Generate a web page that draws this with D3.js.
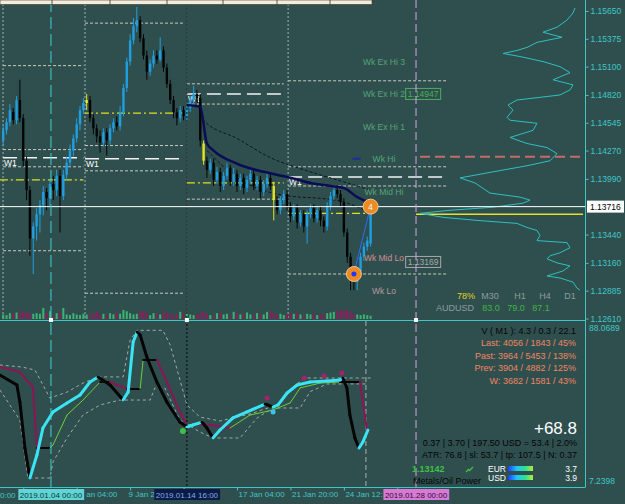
<!DOCTYPE html>
<html><head><meta charset="utf-8">
<script src="https://cdn.jsdelivr.net/npm/d3@7"></script>
<style>
html,body{margin:0;padding:0;background:#2f4f4f;overflow:hidden}
svg{display:block;font-family:"Liberation Sans",Arial,sans-serif}
</style></head><body>
<svg id="chart" width="625" height="504"></svg>
<script>
// ---- H4 candles (EURUSD) ----
var open = [1.1437,1.1447,1.1455,1.1465,1.1457,1.1477,1.1459,1.1417,1.1388,1.1340,
  1.1352,1.1364,1.1373,1.1386,1.1380,1.1394,1.1388,1.1402,1.1382,1.1403,
  1.1415,1.1427,1.1439,1.1453,1.1467,1.1474,1.1477,1.1459,1.1449,1.1441,
  1.1435,1.1445,1.1437,1.1449,1.1455,1.1451,1.1465,1.1489,1.1515,1.1536,
  1.1550,1.1556,1.1538,1.1521,1.1505,1.1513,1.1521,1.1517,1.1526,1.1509,
  1.1493,1.1477,1.1465,1.1459,1.1467,1.1461,1.1469,1.1477,1.1483,1.1479,
  1.1434,1.1417,1.1408,1.1415,1.1398,1.1406,1.1392,1.1402,1.1410,1.1396,
  1.1404,1.1392,1.1400,1.1390,1.1398,1.1404,1.1392,1.1398,1.1386,1.1394,
  1.1400,1.1392,1.1378,1.1368,1.1378,1.1384,1.1372,1.1362,1.1370,1.1356,
  1.1364,1.1352,1.1364,1.1370,1.1360,1.1368,1.1358,1.1352,1.1372,1.1382,
  1.1388,1.1384,1.1376,1.1346,1.1322,1.1306,1.1297,1.1308,1.1322,1.1332,
  1.1335];
var high = [1.1451,1.1459,1.1473,1.1469,1.1481,1.1497,1.1463,1.1421,1.1392,1.1356,
  1.1370,1.1378,1.1392,1.1390,1.1398,1.1402,1.1408,1.1408,1.1408,1.1421,
  1.1433,1.1443,1.1459,1.1471,1.1479,1.1483,1.1481,1.1463,1.1453,1.1447,
  1.1449,1.1449,1.1453,1.1459,1.1461,1.1471,1.1493,1.1519,1.1542,1.1558,
  1.1569,1.1560,1.1542,1.1526,1.1517,1.1526,1.1526,1.1539,1.1530,1.1513,
  1.1497,1.1481,1.1469,1.1471,1.1471,1.1473,1.1481,1.1491,1.1487,1.1483,
  1.1437,1.1421,1.1419,1.1419,1.1411,1.1410,1.1406,1.1415,1.1413,1.1410,
  1.1408,1.1404,1.1404,1.1402,1.1410,1.1408,1.1402,1.1402,1.1398,1.1406,
  1.1404,1.1396,1.1382,1.1382,1.1388,1.1388,1.1376,1.1374,1.1374,1.1368,
  1.1368,1.1368,1.1374,1.1374,1.1372,1.1372,1.1362,1.1376,1.1386,1.1393,
  1.1392,1.1388,1.1380,1.1350,1.1326,1.1310,1.1312,1.1326,1.1336,1.1342,
  1.1376];
var low = [1.1431,1.1443,1.1451,1.1453,1.1453,1.1455,1.1411,1.1378,1.1323,1.1305,
  1.1338,1.1346,1.1363,1.1368,1.1373,1.1378,1.1382,1.1346,1.1378,1.1398,
  1.1411,1.1421,1.1435,1.1447,1.1463,1.1467,1.1455,1.1443,1.1435,1.1425,
  1.1431,1.1422,1.1433,1.1445,1.1447,1.1447,1.1461,1.1485,1.1511,1.1532,
  1.1544,1.1534,1.1517,1.1497,1.1501,1.1509,1.1513,1.1515,1.1505,1.1489,
  1.1473,1.1459,1.1452,1.1455,1.1457,1.1457,1.1465,1.1473,1.1475,1.1431,
  1.1413,1.1400,1.1404,1.1392,1.1394,1.1386,1.1388,1.1398,1.1392,1.1392,
  1.1386,1.1388,1.1384,1.1386,1.1394,1.1388,1.1388,1.1380,1.1382,1.1390,
  1.1388,1.1358,1.1364,1.1364,1.1374,1.1368,1.1356,1.1358,1.1350,1.1352,
  1.1346,1.1335,1.1360,1.1356,1.1356,1.1352,1.1346,1.1348,1.1368,1.1378,
  1.1380,1.1372,1.1342,1.1316,1.1289,1.1289,1.1289,1.1304,1.1318,1.1328,
  1.1332];
var close = [1.1447,1.1455,1.1467,1.1457,1.1477,1.1459,1.1417,1.1388,1.1340,1.1352,
  1.1364,1.1373,1.1386,1.1380,1.1394,1.1388,1.1402,1.1382,1.1403,1.1415,
  1.1427,1.1439,1.1453,1.1467,1.1474,1.1477,1.1459,1.1449,1.1441,1.1435,
  1.1445,1.1437,1.1449,1.1455,1.1451,1.1465,1.1489,1.1515,1.1536,1.1550,
  1.1556,1.1538,1.1521,1.1505,1.1513,1.1521,1.1517,1.1526,1.1509,1.1493,
  1.1477,1.1465,1.1459,1.1467,1.1461,1.1469,1.1477,1.1483,1.1479,1.1437,
  1.1417,1.1408,1.1415,1.1398,1.1406,1.1392,1.1402,1.1410,1.1396,1.1404,
  1.1392,1.1400,1.1390,1.1398,1.1404,1.1392,1.1398,1.1386,1.1394,1.1400,
  1.1392,1.1378,1.1368,1.1378,1.1384,1.1372,1.1362,1.1370,1.1356,1.1364,
  1.1352,1.1364,1.1370,1.1360,1.1368,1.1358,1.1352,1.1372,1.1382,1.1388,
  1.1384,1.1376,1.1346,1.1322,1.1306,1.1297,1.1308,1.1322,1.1332,1.1338,
  1.13716];
var yellowBars = [25, 60, 81];
var volume = [35,30,45,40,50,55,60,45,50,40, 45,40,85,50,60,25,45,55,85,35,
  30,45,35,30,40,35,30,45,55,35, 40,30,45,35,50,40,70,60,45,35,
  40,55,60,45,30,45,40,35,60,45, 35,30,40,55,50,45,35,30,40,45,
  55,40,30,25,45,50,35,40,30,55, 45,35,40,50,35,30,45,40,35,55,
  60,45,35,40,30,35,45,40,50,35, 30,40,35,45,30,35,40,45,50,55,
  60,70,65,75,55,40,35,30,35,30, 25];

var priceTicks = [1.15650,1.15375,1.15100,1.14820,1.14545,1.14270,1.13990,1.13440,1.13160,1.12885,1.12610];
var lastPrice = 1.13716;

// weekly levels
var weekStart = [-0.05, 24.5, 55, 85.3];
var weekEnd = [24, 53.8, 84, 132.9];
var weekDotted = [[1.1511,1.1428,1.1411,1.1328],[1.1553,1.1432,1.1407,1.1286],[1.1493,1.1473,1.1379],[1.1496,1.1411,1.1392,1.1305]];
var weekW1 = [1.1420, 1.1419, 1.1483, 1.1401];
var pivotStart = [-1, 24.5, 55, 85.3];
var pivotEnd = [24, 53.8, 84, 110];
var weekPivot = [1.1398, 1.1464, 1.1395, 1.1365];
var wkNames = ["Wk Ex Hi 3","Wk Ex Hi 2","Wk Ex Hi 1","Wk Hi","Wk Mid Hi","Wk Mid Lo","Wk Lo"];
var wkLevels = [1.1515,1.1483,1.1450,1.1419,1.1386,1.1321,1.1288];
var wkColors = ["#55a574","#55a574","#55a574","#55a574","#55a574","#cf8f8f","#b49c9c"];

// moving averages
var maIdx = [55,59,61,63,70,78,85,92,98,102,106,110];
var maVal = [1.1472,1.1470,1.1434,1.1427,1.1414,1.1406,1.1401,1.1395,1.1392,1.1390,1.1381,1.1375];
var envIdx = [58,60,70,80,90,100,110];
var envVal = [1.1477,1.1457,1.1439,1.1420,1.1408,1.1398,1.1388];
var env2Idx = [61,71,82,101,109];
var env2Val = [1.1427,1.1398,1.1384,1.1377,1.1367];

// volume profile
var profilePrice = [1.1568,1.1563,1.1556,1.1549,1.1544,1.1539,1.1534,1.1529,1.1526,1.1523,
  1.1520,1.1515,1.1510,1.1504,1.1497,1.1492,1.1487,1.1482,1.1480,1.1477,
  1.1472,1.1467,1.1460,1.1457,1.1454,1.1447,1.1440,1.1434,1.1430,1.1424,
  1.1417,1.1412,1.1406,1.1400,1.1395,1.1385,1.1381,1.1378,1.1375,1.1371,
  1.1368,1.1365,1.1361,1.1358,1.1355,1.1351,1.1348,1.1343,1.1338,1.1336,
  1.1331,1.1326,1.1323,1.1320,1.1316,1.1313,1.1308,1.1303,1.1301,1.1297,
  1.1291,1.1289];
var profileVol = [8,10,16,26,40,21,46,56,66,80, 63,40,23,13,30,10,13,23,40,66,
  75,70,76,73,46,50,73,56,36,26, 33,56,90,123,108,93,63,53,60,90,
  133,163,140,106,66,56,46,43,46,16, 13,23,33,36,26,13,20,36,23,10,
  6,3];
var pocPrice = 1.1364;
var alertPrice = 1.1421;

// oscillator
var oscIdx = [-1,4.1,5,6.5,8,10.1,11.9,14.9,19.1,23,26,28.4,32,35.9,37.4,38.9,40.1,41,43.1,46,49,52.9,55,56.8,59.5,61,62.8,64.9,68.8,73,78.4,80.8,82.3,85,88,91.9,97,100.8,101.7,102.9,103.8,105.3,106.5,107.7,109.2];
var oscMain = [64.3,58.7,49.3,23.8,7.24,20.0,34.9,43.8,48.8,53.2,60.4,63.2,58.7,50.4,54.8,82.5,88.07,86.4,73.7,60.4,49.3,38.2,35.5,36.6,38.2,34.9,29.4,33.8,40.5,43.8,48.2,46.5,47.7,54.3,58.7,60.4,60.9,61.5,62.6,57.1,42.1,29.4,23.8,27.2,33.8];
var sigIdx = [-1,5,8.9,10.1,14,14.9,19.1,23.9,29,32,34.1,37.1,41,41.9,46,49,52.9,55,58.9,61.9,67.9,73.9,80.8,85.9,88.9,94.9,100.8,106.8,107.7,108.9];
var sigVal = [68.7,65.9,57.6,23.8,23.8,25.5,42.1,50.4,60.4,60.4,58.7,56.5,56.5,72.6,72.6,60.4,43.8,36.6,37.1,36.6,34.9,42.1,44.9,48.8,57.1,59.8,60.4,60.4,49.3,33.8];
var upIdx = [-1,5.6,9.5,14,19.1,24.5,29,35.9,38,40.1,47.8,50,55,58.9,64.9,73.9,82,87.4,90.4,110];
var upVal = [69.8,68.7,67.0,51.5,54.8,60.4,63.2,63.2,83.6,89.0,89.0,80.9,47.7,41.0,38.8,42.7,47.7,58.7,62.6,62.6];
var loIdx = [-1,5,7.4,14,14.9,19.1,23.9,29,35,44,45.4,48.4,52.9,58.9,62.8,70.9,76,80.8,88.9,91.9,97,109];
var loVal = [56.0,39.3,7.24,7.24,16.1,29.4,42.1,47.7,50.4,50.4,57.1,57.1,39.3,32.7,29.4,29.4,40.5,46.0,46.0,55.1,59.3,59.3];
var dotIdx = [79.0,90.1,96.1,101.4,80.8,53.8];
var dotVal = [51.5,62.6,63.7,65.4,43.8,33.3];
var dotCol = ["#a3226a","#a3226a","#a3226a","#a3226a","#36c6f0","#3fc13f"];

// time axis (labels as far as they show between the date flags)
var tickIdx = [-10,6,22,38,54,70,86,102,118];
var tickLabels = ["","","an 04:00","9 Jan 2","","17 Jan 04:00","21 Jan 20:00","24 Jan 12:",""];
var eventIdx = [14.3, 55, 123.6];
var eventLabels = ["2019.01.04 00:00","2019.01.14 16:00","2019.01.28 00:00"];

var axisCol = "#3fc6c6";
var svg = d3.select("#chart");
svg.append("rect").attr("width", 625).attr("height", 504).attr("fill", "#2f4f4f");

var x = d3.scaleLinear().domain([0, 110]).range([3.2, 370.6]);
var y = d3.scaleLinear().domain([1.12610, 1.15650]).range([318.5, 11]);
var yo = d3.scaleLinear().domain([7.2398, 88.0689]).range([478, 332]);
var yv = d3.scaleLinear().domain([0, 100]).range([0, 13]);
var xp = d3.scaleLinear().domain([0, 170]).range([583, 413]);

var defs = svg.append("defs");
defs.append("clipPath").attr("id", "clipMain").append("rect").attr("width", 585).attr("height", 320);
defs.append("clipPath").attr("id", "clipOsc").append("rect").attr("y", 321).attr("width", 585).attr("height", 166);
var grad = defs.append("linearGradient").attr("id", "pw");
[["0", "#1f3cff"], ["0.35", "#22c2ff"], ["0.7", "#2fe08f"], ["1", "#b8e83a"]].forEach(function(s) {
  grad.append("stop").attr("offset", s[0]).attr("stop-color", s[1]);
});

var gMain = svg.append("g").attr("clip-path", "url(#clipMain)");
var gOsc = svg.append("g").attr("clip-path", "url(#clipOsc)");

// week separators
weekStart.forEach(function(i) {
  gMain.append("line").attr("x1", x(i)).attr("x2", x(i)).attr("y1", 0).attr("y2", 320)
    .attr("stroke", "#9fb0b0").attr("stroke-dasharray", "2,2");
});

// weekly levels
weekDotted.forEach(function(lv, w) {
  lv.forEach(function(p) {
    gMain.append("line").attr("x1", x(weekStart[w])).attr("x2", x(weekEnd[w]))
      .attr("y1", y(p)).attr("y2", y(p)).attr("stroke", "#c9c9bd").attr("stroke-dasharray", "3,2");
  });
});
weekW1.forEach(function(p, w) {
  var e = w == 3 ? 132.5 : weekEnd[w];
  gMain.append("line").attr("x1", x(weekStart[w])).attr("x2", x(e))
    .attr("y1", y(p)).attr("y2", y(p)).attr("stroke", "#f2f2f2").attr("stroke-width", 1.5).attr("stroke-dasharray", "14,6");
  gMain.append("text").attr("x", x(weekStart[w]) + 1).attr("y", y(p) + 8)
    .attr("fill", "#ffffff").attr("font-size", 8.5).text("W1");
});
weekPivot.forEach(function(p, w) {
  gMain.append("line").attr("x1", x(pivotStart[w])).attr("x2", x(pivotEnd[w]))
    .attr("y1", y(p)).attr("y2", y(p)).attr("stroke", "#e2e01e").attr("stroke-width", 1.3).attr("stroke-dasharray", "8,3,2,3");
});

// volume
var bars = d3.range(open.length);
function candleCol(i) {
  if (yellowBars.indexOf(i) >= 0) return "#e6e41c";
  return close[i] >= open[i] ? "#1f9fe0" : "#050505";
}
gMain.append("g").selectAll("rect").data(bars).join("rect")
  .attr("x", function(i) { return x(i) - 1; }).attr("width", 2)
  .attr("y", function(i) { return 319 - yv(volume[i]); })
  .attr("height", function(i) { return yv(volume[i]); })
  .attr("fill", function(i) { return close[i] >= open[i] ? "#3cb371" : "#8e1d5c"; });

// volume profile + poc
gMain.append("line").attr("x1", x(eventIdx[2])).attr("x2", 583).attr("y1", y(pocPrice)).attr("y2", y(pocPrice))
  .attr("stroke", "#e6e030").attr("stroke-width", 1.5);
gMain.append("line").attr("x1", x(eventIdx[2]) + 4).attr("x2", 583).attr("y1", y(alertPrice)).attr("y2", y(alertPrice))
  .attr("stroke", "#c86a6a").attr("stroke-width", 2).attr("stroke-dasharray", "10,5");
gMain.append("path").datum(profilePrice)
  .attr("d", d3.line().x(function(d, k) { return xp(profileVol[k]); }).y(function(d) { return y(d); }))
  .attr("fill", "none").attr("stroke", "#2ec0c0").attr("stroke-width", 1);

// MA + envelopes
function pline(idx, val) {
  return d3.line().curve(d3.curveMonotoneX).x(function(d, k) { return x(idx[k]); }).y(function(d) { return y(d); })(val);
}
gMain.append("path").attr("d", pline(envIdx, envVal)).attr("fill", "none").attr("stroke", "#0b1622").attr("stroke-dasharray", "3,2");
gMain.append("path").attr("d", pline(env2Idx, env2Val)).attr("fill", "none").attr("stroke", "#0b1622").attr("stroke-dasharray", "3,2");

// candles
var cg = gMain.append("g");
cg.selectAll("line").data(bars).join("line")
  .attr("x1", function(i) { return x(i); }).attr("x2", function(i) { return x(i); })
  .attr("y1", function(i) { return y(high[i]); }).attr("y2", function(i) { return y(low[i]); })
  .attr("stroke", candleCol).attr("stroke-width", 1);
cg.selectAll("rect").data(bars).join("rect")
  .attr("x", function(i) { return x(i) - 1.2; }).attr("width", 2.4)
  .attr("y", function(i) { return y(Math.max(open[i], close[i])); })
  .attr("height", function(i) { return Math.max(1, Math.abs(y(open[i]) - y(close[i]))); })
  .attr("fill", candleCol);

gMain.append("path").attr("d", pline(maIdx, maVal)).attr("fill", "none").attr("stroke", "#0a0c55").attr("stroke-width", 2.5);

// current price line
gMain.append("line").attr("x1", 0).attr("x2", 585).attr("y1", y(lastPrice)).attr("y2", y(lastPrice))
  .attr("stroke", "#ffffff").attr("stroke-width", 1);

// swing markers
gMain.append("line").attr("x1", x(105)).attr("y1", y(low[105]) - 17).attr("x2", x(110)).attr("y2", y(close[110]))
  .attr("stroke", "#2a6cff").attr("stroke-width", 1);
[[105, 1.1305], [110, lastPrice]].forEach(function(m, k) {
  gMain.append("circle").attr("cx", x(m[0])).attr("cy", y(m[1])).attr("r", 7.5)
    .attr("fill", "#ee8a22").attr("stroke", "#f7c48c").attr("stroke-width", 1);
  if (k == 0) gMain.append("circle").attr("cx", x(m[0])).attr("cy", y(m[1])).attr("r", 2.5).attr("fill", "#2038ff");
  else gMain.append("text").attr("x", x(m[0])).attr("y", y(m[1]) + 3.5).attr("text-anchor", "middle")
    .attr("font-size", 9).attr("fill", "#dff6ff").text("4");
});
gMain.append("line").attr("x1", x(104.6)).attr("x2", x(107)).attr("y1", y(wkLevels[3])).attr("y2", y(wkLevels[3]))
  .attr("stroke", "#1a2c9a").attr("stroke-width", 2);

// weekly labels
wkNames.forEach(function(n, k) {
  gMain.append("text").attr("x", x(114)).attr("y", y(wkLevels[k]) + 3).attr("text-anchor", "middle")
    .attr("font-size", 8.5).attr("fill", wkColors[k]).text(n);
});
[["1.14947", wkLevels[1], "#4cae5a"], ["1.13169", 1.13169, "#a8a8a8"]].forEach(function(b) {
  gMain.append("rect").attr("x", x(120.5)).attr("y", y(b[1]) - 5.5).attr("width", 35).attr("height", 11)
    .attr("fill", "#2f4f4f").attr("stroke", b[2]);
  gMain.append("text").attr("x", x(120.5) + 2).attr("y", y(b[1]) + 3).attr("font-size", 8.5).attr("fill", b[2]).text(b[0]);
});

// strength panel
[["78%", 466, "#e4d12a"], ["M30", 490, "#8c9c9c"], ["H1", 520, "#8c9c9c"], ["H4", 545, "#8c9c9c"], ["D1", 570, "#8c9c9c"]].forEach(function(t) {
  svg.append("text").attr("x", t[1]).attr("y", 299).attr("text-anchor", "middle").attr("font-size", 9).attr("fill", t[2]).text(t[0]);
});
[["AUDUSD", 455, "#8c9c9c"], ["83.0", 491, "#3fb43f"], ["79.0", 516, "#3fb43f"], ["87.1", 541, "#3fb43f"]].forEach(function(t) {
  svg.append("text").attr("x", t[1]).attr("y", 311).attr("text-anchor", "middle").attr("font-size", 9).attr("fill", t[2]).text(t[0]);
});

// ---- oscillator ----
gOsc.append("line").attr("x1", x(108.6)).attr("x2", x(108.6)).attr("y1", 321).attr("y2", 487)
  .attr("stroke", "#a7b0b0").attr("stroke-dasharray", "5,3");
function oline(idx, val) {
  return d3.line().x(function(d, k) { return x(idx[k]); }).y(function(d) { return yo(d); })(val);
}
gOsc.append("path").attr("d", oline(upIdx, upVal)).attr("fill", "none").attr("stroke", "#a3a8a8").attr("stroke-dasharray", "3,3");
gOsc.append("path").attr("d", oline(loIdx, loVal)).attr("fill", "none").attr("stroke", "#a3a8a8").attr("stroke-dasharray", "3,3");
function segs(idx, val, upC, dnC, flatC, upW, dnW) {
  for (var k = 0; k < idx.length - 1; k++) {
    var d = val[k + 1] - val[k];
    gOsc.append("line").attr("x1", x(idx[k])).attr("y1", yo(val[k])).attr("x2", x(idx[k + 1])).attr("y2", yo(val[k + 1]))
      .attr("stroke", d > 0 ? upC : (d < 0 ? dnC : flatC)).attr("stroke-width", d > 0 ? upW : dnW)
      .attr("stroke-linecap", "round");
  }
}
segs(sigIdx, sigVal, "#6fcf35", "#8e1456", "#050505", 1, 2);
segs(oscIdx, oscMain, "#3ae4f4", "#050505", "#050505", 3, 3);
dotIdx.forEach(function(d, k) {
  gOsc.append("circle").attr("cx", x(d)).attr("cy", yo(dotVal[k])).attr("r", k == 5 ? 3 : 2.5).attr("fill", dotCol[k]);
});

// event vertical lines (both panels)
var evStyle = [["#3fd0d0", "12,5"], ["#050505", "2,2"], ["#d7a3e3", "8,4"]];
eventIdx.forEach(function(e, k) {
  svg.append("line").attr("x1", x(e)).attr("x2", x(e)).attr("y1", 0).attr("y2", 487)
    .attr("stroke", evStyle[k][0]).attr("stroke-dasharray", evStyle[k][1]);
});

// info block
var info = [["V ( M1 ): 4.3 / 0.3 / 22.1", 334, "#050505"], ["Last: 4056 / 1843 / 45%", 346, "#f08660"],
  ["Past: 3964 / 5453 / 138%", 359, "#f08660"], ["Prev: 3904 / 4882 / 125%", 371, "#f08660"],
  ["W: 3682 / 1581 / 43%", 384, "#f08660"]];
info.forEach(function(t) {
  svg.append("text").attr("x", 576).attr("y", t[1]).attr("text-anchor", "end").attr("font-size", 9).attr("fill", t[2]).text(t[0]);
});
svg.append("text").attr("x", 577).attr("y", 434).attr("text-anchor", "end").attr("font-size", 17).attr("fill", "#ffffff").text("+68.8");
svg.append("text").attr("x", 577).attr("y", 446).attr("text-anchor", "end").attr("font-size", 9).attr("fill", "#050505")
  .text("0.37  |  3.70  |  197.50 USD = 53.4  |  2.0%");
svg.append("text").attr("x", 577).attr("y", 458).attr("text-anchor", "end").attr("font-size", 9).attr("fill", "#050505")
  .text("ATR: 76.8  | sl: 53.7  |  tp: 107.5  |  N: 0.37");
svg.append("text").attr("x", 412).attr("y", 472).attr("font-size", 9).attr("font-weight", "bold").attr("fill", "#3fc13f").text("1.13142");
svg.append("text").attr("x", 413).attr("y", 484).attr("font-size", 9).attr("fill", "#050505").text("Metals/Oil Power");
svg.append("path").attr("d", "M466,472 l3,-3 M470,470 l3,-3 M468,469 l2,2").attr("stroke", "#3fc13f").attr("stroke-width", 1.3).attr("fill", "none");
[["EUR", 472, "3.7"], ["USD", 481, "3.9"]].forEach(function(t) {
  svg.append("text").attr("x", 488).attr("y", t[1]).attr("font-size", 8.5).attr("fill", "#ffffff").text(t[0]);
  svg.append("rect").attr("x", 508).attr("y", t[1] - 6).attr("width", 25).attr("height", 5).attr("fill", "url(#pw)");
  svg.append("text").attr("x", 577).attr("y", t[1]).attr("text-anchor", "end").attr("font-size", 8.5).attr("fill", "#ffffff").text(t[2]);
});

// frame
svg.append("line").attr("x1", 0).attr("x2", 585).attr("y1", 320.5).attr("y2", 320.5).attr("stroke", axisCol);
svg.append("line").attr("x1", 0).attr("x2", 585).attr("y1", 487.5).attr("y2", 487.5).attr("stroke", axisCol);
svg.append("line").attr("x1", 585.5).attr("x2", 585.5).attr("y1", 0).attr("y2", 487.5).attr("stroke", axisCol);
eventIdx.forEach(function(e) {
  svg.append("rect").attr("x", x(e) - 2).attr("y", 318).attr("width", 4).attr("height", 4).attr("fill", "#ffffff");
});

// top table strip
svg.append("rect").attr("x", 0).attr("y", 0).attr("width", 372).attr("height", 4.5).attr("fill", "#f3ecd8").attr("stroke", "#333").attr("stroke-width", 0.6);
[52, 110, 167, 223, 277, 330].forEach(function(s) {
  svg.append("line").attr("x1", s).attr("x2", s).attr("y1", 0).attr("y2", 4.5).attr("stroke", "#333").attr("stroke-width", 0.8);
});

// price axis
var pa = svg.append("g").attr("transform", "translate(585.5,0)")
  .call(d3.axisRight(y).tickValues(priceTicks).tickFormat(d3.format(".5f")).tickSize(3));
pa.select(".domain").remove();
pa.selectAll("line").attr("stroke", axisCol);
pa.selectAll("text").attr("fill", axisCol).attr("font-size", 8.5).attr("x", 5).attr("font-family", "Liberation Sans, Arial");
svg.append("rect").attr("x", 587).attr("y", y(lastPrice) - 6).attr("width", 37).attr("height", 12).attr("fill", "#ffffff");
svg.append("text").attr("x", 590).attr("y", y(lastPrice) + 3.5).attr("font-size", 8.5).attr("fill", "#000").text("1.13716");
svg.append("text").attr("x", 589).attr("y", 331).attr("font-size", 8.5).attr("fill", axisCol).text("88.0689");
svg.append("text").attr("x", 589).attr("y", 484).attr("font-size", 8.5).attr("fill", axisCol).text("7.2398");

// time axis
var ta = svg.append("g").attr("transform", "translate(0,487.5)")
  .call(d3.axisBottom(x).tickValues(tickIdx).tickFormat(function(d, k) { return tickLabels[k]; }).tickSize(3));
ta.select(".domain").remove();
ta.selectAll("line").attr("stroke", axisCol);
ta.selectAll("text").attr("fill", axisCol).attr("font-size", 8).attr("text-anchor", "start")
  .attr("x", function(d, k) { return k == 2 ? 9 : (k == 3 ? -2 : 1); }).attr("y", 4).attr("font-family", "Liberation Sans, Arial");
svg.append("text").attr("x", 0).attr("y", 498).attr("font-size", 8).attr("fill", axisCol).text("0:00");
var evBox = [["#5fd5d5", "#123535"], ["#0b1a48", "#7fb0e0"], ["#d67ad6", "#301030"]];
eventIdx.forEach(function(e, k) {
  var g = svg.append("g");
  var t = g.append("text").attr("x", x(e)).attr("y", 498).attr("text-anchor", "middle").attr("font-size", 8)
    .attr("fill", evBox[k][1]).text(eventLabels[k]);
  var bb = t.node().getBBox();
  g.insert("rect", "text").attr("x", bb.x - 1.5).attr("y", 489).attr("width", bb.width + 3).attr("height", 11).attr("fill", evBox[k][0]);
});
</script>
</body></html>
